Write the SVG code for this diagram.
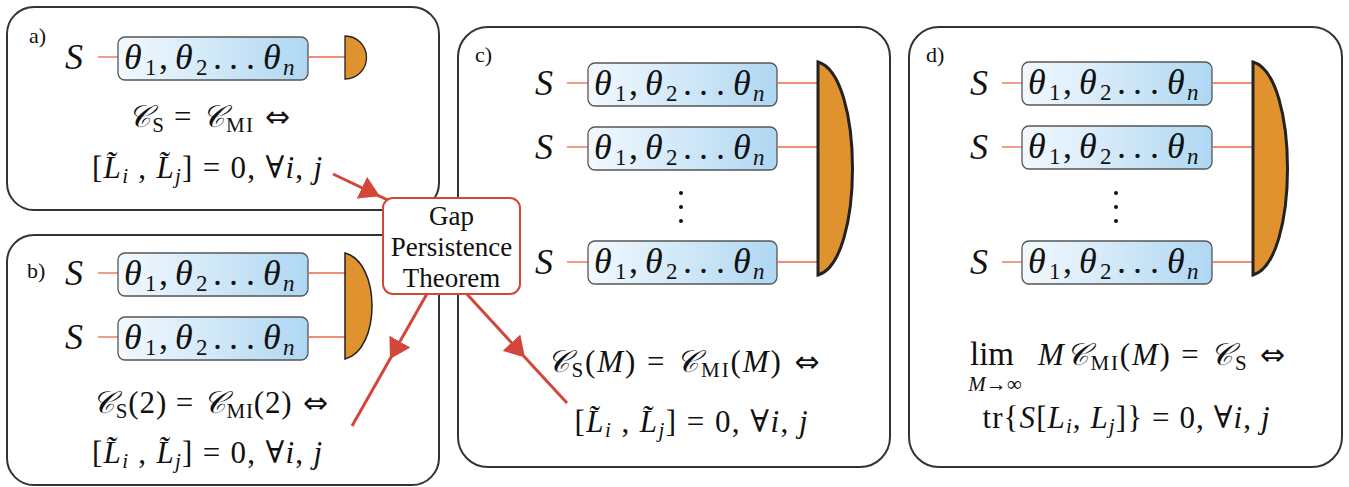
<svg xmlns="http://www.w3.org/2000/svg" width="1349" height="487" viewBox="0 0 1349 487">
<defs>
<linearGradient id="g" x1="0" y1="0" x2="1" y2="0">
<stop offset="0" stop-color="#F3F9FE"/>
<stop offset="1" stop-color="#AFD7F2"/>
</linearGradient>
<marker id="ah" markerUnits="userSpaceOnUse" viewBox="0 0 20 24" markerWidth="20" markerHeight="24" refX="20" refY="12" orient="auto">
<path d="M0,0 L20,12 L0,24 Z" fill="#D3473B"/>
</marker>
<style>
.panel{fill:#fff;stroke:#333;stroke-width:2}
.box{fill:url(#g);stroke:#555;stroke-width:1.3}
.wire{stroke:#E8684A;stroke-width:1.3}
.det{fill:#E0922F;stroke:#222}
.m{font-family:"Liberation Serif","DejaVu Serif",serif;fill:#111}
.it{font-style:italic}
.up{font-style:normal}
.th{font-size:36px}
.sb{font-size:23px}
.f{font-size:31px}
.fs{font-size:21px}
.ar{font-family:"DejaVu Sans",sans-serif;font-size:30px}
.lbl{font-size:22px}
.conn{stroke:#D3473B;stroke-width:3;fill:none}
.gap{fill:#fff;stroke:#D3473B;stroke-width:2}
.gt{font-family:"Liberation Serif",serif;font-size:27px;fill:#111}
.dot{fill:#111}
</style>
</defs>
<rect width="1349" height="487" fill="#fff"/>

<g id="panel-a">
<rect class="panel" x="7" y="7" width="432" height="203" rx="27"/>
<text class="m lbl" x="29" y="43">a)</text>
<g id="a-row1">
<text class="m it th" x="65" y="69">S</text>
<line class="wire" x1="98" y1="57" x2="118" y2="57"/>
<rect class="box" x="118" y="37" width="190" height="43" rx="7"/>
<text class="m it th" y="69"><tspan x="124">θ</tspan><tspan x="145" dy="6" class="sb up">1</tspan><tspan x="159" dy="-6" class="up">,</tspan><tspan x="175">θ</tspan><tspan x="196" dy="6" class="sb up">2</tspan><tspan x="213" dy="-6" class="up">.</tspan><tspan x="229" class="up">.</tspan><tspan x="246" class="up">.</tspan><tspan x="263">θ</tspan><tspan x="283" dy="6" class="sb">n</tspan></text>
<line class="wire" x1="308" y1="57" x2="345" y2="57"/>
</g>
<path id="a-det" class="det" stroke-width="1.3" d="M345,36 A21.5,21.5 0 0 1 345,79 Z"/>
<text class="m f" x="209" y="127" text-anchor="middle" textLength="162" lengthAdjust="spacing"><tspan class="it">𝒞</tspan><tspan class="fs" dy="5">S</tspan><tspan dy="-5"> = </tspan><tspan class="it">𝒞</tspan><tspan class="fs" dy="5">MI</tspan><tspan dy="-5" class="ar"> ⇔</tspan></text>
<text class="m f" x="207" y="178" text-anchor="middle" textLength="230" lengthAdjust="spacing">[<tspan class="it">L̃</tspan><tspan class="fs it" dy="5">i</tspan><tspan dy="-5"> , </tspan><tspan class="it">L̃</tspan><tspan class="fs it" dy="5">j</tspan><tspan dy="-5">] = 0, ∀</tspan><tspan class="it">i</tspan>, <tspan class="it">j</tspan></text>
</g>

<g id="panel-b">
<rect class="panel" x="7" y="235" width="432" height="250" rx="27"/>
<text class="m lbl" x="27" y="278">b)</text>
<g id="b-row1">
<text class="m it th" x="65" y="285">S</text>
<line class="wire" x1="98" y1="273" x2="118" y2="273"/>
<rect class="box" x="118" y="253" width="190" height="43" rx="7"/>
<text class="m it th" y="285"><tspan x="124">θ</tspan><tspan x="145" dy="6" class="sb up">1</tspan><tspan x="159" dy="-6" class="up">,</tspan><tspan x="175">θ</tspan><tspan x="196" dy="6" class="sb up">2</tspan><tspan x="213" dy="-6" class="up">.</tspan><tspan x="229" class="up">.</tspan><tspan x="246" class="up">.</tspan><tspan x="263">θ</tspan><tspan x="283" dy="6" class="sb">n</tspan></text>
<line class="wire" x1="308" y1="273" x2="345" y2="273"/>
</g>
<g id="b-row2">
<text class="m it th" x="65" y="349">S</text>
<line class="wire" x1="98" y1="337" x2="118" y2="337"/>
<rect class="box" x="118" y="317" width="190" height="43" rx="7"/>
<text class="m it th" y="349"><tspan x="124">θ</tspan><tspan x="145" dy="6" class="sb up">1</tspan><tspan x="159" dy="-6" class="up">,</tspan><tspan x="175">θ</tspan><tspan x="196" dy="6" class="sb up">2</tspan><tspan x="213" dy="-6" class="up">.</tspan><tspan x="229" class="up">.</tspan><tspan x="246" class="up">.</tspan><tspan x="263">θ</tspan><tspan x="283" dy="6" class="sb">n</tspan></text>
<line class="wire" x1="308" y1="337" x2="345" y2="337"/>
</g>
<path id="b-det" class="det" stroke-width="1.5" d="M345,253 C381,262 381,350 345,359 Z"/>
<text class="m f" x="210" y="413" text-anchor="middle" textLength="236" lengthAdjust="spacing"><tspan class="it">𝒞</tspan><tspan class="fs" dy="5">S</tspan><tspan dy="-5">(2) = </tspan><tspan class="it">𝒞</tspan><tspan class="fs" dy="5">MI</tspan><tspan dy="-5">(2)</tspan><tspan class="ar"> ⇔</tspan></text>
<text class="m f" x="207" y="463" text-anchor="middle" textLength="230" lengthAdjust="spacing">[<tspan class="it">L̃</tspan><tspan class="fs it" dy="5">i</tspan><tspan dy="-5"> , </tspan><tspan class="it">L̃</tspan><tspan class="fs it" dy="5">j</tspan><tspan dy="-5">] = 0, ∀</tspan><tspan class="it">i</tspan>, <tspan class="it">j</tspan></text>
</g>

<g id="panel-c">
<rect class="panel" x="458" y="27" width="432" height="440" rx="30"/>
<text class="m lbl" x="475" y="62">c)</text>
<g id="c-row1">
<text class="m it th" x="535" y="95">S</text>
<line class="wire" x1="567" y1="83" x2="588" y2="83"/>
<rect class="box" x="588" y="63" width="189" height="43" rx="7"/>
<text class="m it th" y="95"><tspan x="594">θ</tspan><tspan x="615" dy="6" class="sb up">1</tspan><tspan x="629" dy="-6" class="up">,</tspan><tspan x="645">θ</tspan><tspan x="666" dy="6" class="sb up">2</tspan><tspan x="683" dy="-6" class="up">.</tspan><tspan x="699" class="up">.</tspan><tspan x="716" class="up">.</tspan><tspan x="733">θ</tspan><tspan x="753" dy="6" class="sb">n</tspan></text>
<line class="wire" x1="777" y1="83" x2="818" y2="83"/>
</g>
<g id="c-row2">
<text class="m it th" x="535" y="159">S</text>
<line class="wire" x1="567" y1="147" x2="588" y2="147"/>
<rect class="box" x="588" y="127" width="189" height="43" rx="7"/>
<text class="m it th" y="159"><tspan x="594">θ</tspan><tspan x="615" dy="6" class="sb up">1</tspan><tspan x="629" dy="-6" class="up">,</tspan><tspan x="645">θ</tspan><tspan x="666" dy="6" class="sb up">2</tspan><tspan x="683" dy="-6" class="up">.</tspan><tspan x="699" class="up">.</tspan><tspan x="716" class="up">.</tspan><tspan x="733">θ</tspan><tspan x="753" dy="6" class="sb">n</tspan></text>
<line class="wire" x1="777" y1="147" x2="818" y2="147"/>
</g>
<g id="c-dots"><circle class="dot" cx="681" cy="193" r="2"/><circle class="dot" cx="681" cy="207" r="2"/><circle class="dot" cx="681" cy="221" r="2"/></g>
<g id="c-row3">
<text class="m it th" x="535" y="274">S</text>
<line class="wire" x1="567" y1="262" x2="588" y2="262"/>
<rect class="box" x="588" y="241" width="189" height="43" rx="7"/>
<text class="m it th" y="273"><tspan x="594">θ</tspan><tspan x="615" dy="6" class="sb up">1</tspan><tspan x="629" dy="-6" class="up">,</tspan><tspan x="645">θ</tspan><tspan x="666" dy="6" class="sb up">2</tspan><tspan x="683" dy="-6" class="up">.</tspan><tspan x="699" class="up">.</tspan><tspan x="716" class="up">.</tspan><tspan x="733">θ</tspan><tspan x="753" dy="6" class="sb">n</tspan></text>
<line class="wire" x1="777" y1="262" x2="818" y2="262"/>
</g>
<path id="c-det" class="det" stroke-width="3" d="M818,62 C864,75 864,262 818,275 Z"/>
<text class="m f" x="683" y="372" text-anchor="middle" textLength="273" lengthAdjust="spacing"><tspan class="it">𝒞</tspan><tspan class="fs" dy="5">S</tspan><tspan dy="-5">(</tspan><tspan class="it">M</tspan>) = <tspan class="it">𝒞</tspan><tspan class="fs" dy="5">MI</tspan><tspan dy="-5">(</tspan><tspan class="it">M</tspan>)<tspan class="ar"> ⇔</tspan></text>
<text class="m f" x="691" y="432" text-anchor="middle" textLength="233" lengthAdjust="spacing">[<tspan class="it">L̃</tspan><tspan class="fs it" dy="5">i</tspan><tspan dy="-5"> , </tspan><tspan class="it">L̃</tspan><tspan class="fs it" dy="5">j</tspan><tspan dy="-5">] = 0, ∀</tspan><tspan class="it">i</tspan>, <tspan class="it">j</tspan></text>
</g>

<g id="panel-d">
<rect class="panel" x="909" y="27" width="433" height="440" rx="30"/>
<text class="m lbl" x="926" y="62">d)</text>
<g id="d-row1">
<text class="m it th" x="970" y="95">S</text>
<line class="wire" x1="1002" y1="83" x2="1022" y2="83"/>
<rect class="box" x="1022" y="62" width="190" height="43" rx="7"/>
<text class="m it th" y="94"><tspan x="1028">θ</tspan><tspan x="1049" dy="6" class="sb up">1</tspan><tspan x="1063" dy="-6" class="up">,</tspan><tspan x="1079">θ</tspan><tspan x="1100" dy="6" class="sb up">2</tspan><tspan x="1117" dy="-6" class="up">.</tspan><tspan x="1133" class="up">.</tspan><tspan x="1150" class="up">.</tspan><tspan x="1167">θ</tspan><tspan x="1187" dy="6" class="sb">n</tspan></text>
<line class="wire" x1="1212" y1="83" x2="1253" y2="83"/>
</g>
<g id="d-row2">
<text class="m it th" x="970" y="159">S</text>
<line class="wire" x1="1002" y1="147" x2="1022" y2="147"/>
<rect class="box" x="1022" y="126" width="190" height="43" rx="7"/>
<text class="m it th" y="158"><tspan x="1028">θ</tspan><tspan x="1049" dy="6" class="sb up">1</tspan><tspan x="1063" dy="-6" class="up">,</tspan><tspan x="1079">θ</tspan><tspan x="1100" dy="6" class="sb up">2</tspan><tspan x="1117" dy="-6" class="up">.</tspan><tspan x="1133" class="up">.</tspan><tspan x="1150" class="up">.</tspan><tspan x="1167">θ</tspan><tspan x="1187" dy="6" class="sb">n</tspan></text>
<line class="wire" x1="1212" y1="147" x2="1253" y2="147"/>
</g>
<g id="d-dots"><circle class="dot" cx="1116" cy="193" r="2"/><circle class="dot" cx="1116" cy="207" r="2"/><circle class="dot" cx="1116" cy="221" r="2"/></g>
<g id="d-row3">
<text class="m it th" x="970" y="274">S</text>
<line class="wire" x1="1002" y1="262" x2="1022" y2="262"/>
<rect class="box" x="1022" y="241" width="190" height="43" rx="7"/>
<text class="m it th" y="273"><tspan x="1028">θ</tspan><tspan x="1049" dy="6" class="sb up">1</tspan><tspan x="1063" dy="-6" class="up">,</tspan><tspan x="1079">θ</tspan><tspan x="1100" dy="6" class="sb up">2</tspan><tspan x="1117" dy="-6" class="up">.</tspan><tspan x="1133" class="up">.</tspan><tspan x="1150" class="up">.</tspan><tspan x="1167">θ</tspan><tspan x="1187" dy="6" class="sb">n</tspan></text>
<line class="wire" x1="1212" y1="262" x2="1253" y2="262"/>
</g>
<path id="d-det" class="det" stroke-width="3" d="M1253,62 C1299,75 1299,262 1253,275 Z"/>
<text class="m" x="992" y="365" text-anchor="middle" font-size="33">lim</text>
<text class="m" x="995" y="391" text-anchor="middle" font-size="21"><tspan class="it">M</tspan>→∞</text>
<text class="m f" x="1038" y="365" textLength="247" lengthAdjust="spacing"><tspan class="it">M𝒞</tspan><tspan class="fs" dy="5">MI</tspan><tspan dy="-5">(</tspan><tspan class="it">M</tspan>) = <tspan class="it">𝒞</tspan><tspan class="fs" dy="5">S</tspan><tspan dy="-5" class="ar"> ⇔</tspan></text>
<text class="m f" x="1126" y="428" text-anchor="middle" textLength="287" lengthAdjust="spacing">tr{<tspan class="it">S</tspan>[<tspan class="it">L</tspan><tspan class="fs it" dy="5">i</tspan><tspan dy="-5">, </tspan><tspan class="it">L</tspan><tspan class="fs it" dy="5">j</tspan><tspan dy="-5">]} = 0, ∀</tspan><tspan class="it">i</tspan>, <tspan class="it">j</tspan></text>
</g>

<g id="connectors">
<path class="conn" marker-mid="url(#ah)" d="M333,174 L380,196.3 L392,202"/>
<path class="conn" marker-mid="url(#ah)" d="M428,292 L390,359 L352,426"/>
<path class="conn" marker-mid="url(#ah)" d="M465,292 L525,357.4 L567,403"/>
</g>

<g id="gap-theorem">
<rect class="gap" x="383" y="198" width="137" height="96" rx="10"/>
<text class="gt" x="451.5" y="225" text-anchor="middle">Gap</text>
<text class="gt" x="451.5" y="256" text-anchor="middle">Persistence</text>
<text class="gt" x="451.5" y="287" text-anchor="middle">Theorem</text>
</g>
</svg>
